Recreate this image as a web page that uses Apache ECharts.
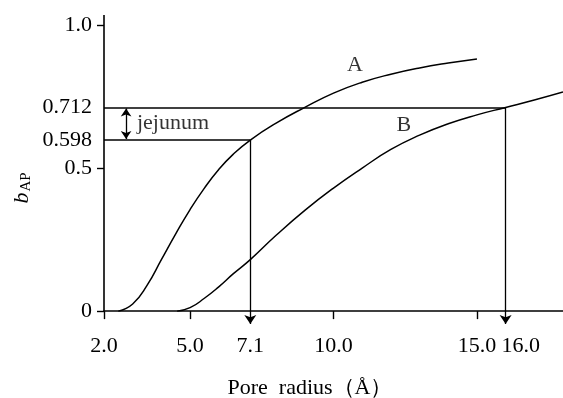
<!DOCTYPE html>
<html>
<head>
<meta charset="utf-8">
<script src="https://cdn.jsdelivr.net/npm/echarts@6/dist/echarts.min.js"></script>
<style>
  html, body { margin: 0; padding: 0; background: #fff; }
  #chart { width: 563px; height: 398px; }
</style>
</head>
<body>
<div id="chart"></div>
<script>
// pore radius (Å) vs b_AP
const radiusA = [2.5, 3.0, 3.5, 4.0, 4.5, 5.0, 5.5, 6.0, 6.5, 7.1, 8.0, 9.0, 10.0, 11.0, 12.0, 13.0, 14.0, 15.0];
const bapA = [0.0, 0.025, 0.09, 0.18, 0.27, 0.355, 0.43, 0.495, 0.548, 0.598, 0.657, 0.712, 0.762, 0.8, 0.828, 0.85, 0.867, 0.881];
const radiusB = [4.55, 5.0, 5.5, 6.0, 6.5, 7.1, 8.0, 9.0, 10.0, 11.0, 12.0, 13.0, 14.0, 15.0, 16.0, 17.0, 18.0];
const bapB = [0.0, 0.012, 0.045, 0.085, 0.13, 0.18, 0.265, 0.352, 0.43, 0.5, 0.565, 0.615, 0.655, 0.686, 0.712, 0.738, 0.766];

const xLabelValues = [2, 5, 7.1, 10, 15, 16];
const xTickValues = [2, 5, 10, 15];
const yLabelValues = [0, 0.5, 0.598, 0.712, 1];
const yTickValues = [0, 0.5, 1];

// jejunum range
const bapLow = 0.598, bapHigh = 0.712;
const radiusLow = 7.1, radiusHigh = 16.0;

const xMin = 2, xMax = 18;
const yMin = -0.045, yMax = 1.035;

const FONT = '"Liberation Serif", "Times New Roman", serif';
const black = '#000';

const toPairs = (xs, ys) => xs.map((x, i) => [x, ys[i]]);

const chart = echarts.init(document.getElementById('chart'), null, { renderer: 'canvas' });

const option = {
    backgroundColor: '#fff',
    animation: false,
    grid: { left: 104, right: 0, top: 15, bottom: 74, containLabel: false },
    xAxis: {
        type: 'value',
        min: xMin,
        max: xMax,
        axisLine: { show: true, lineStyle: { color: black, width: 1.6 } },
        axisTick: { show: true, length: 8, customValues: xTickValues, lineStyle: { color: black, width: 1.4 } },
        axisLabel: {
            customValues: xLabelValues,
            margin: 11,
            color: black,
            fontFamily: FONT,
            fontSize: 22,
            formatter: v => v === 16 ? '{r|16.0}' : v.toFixed(1),
            rich: { r: { fontFamily: FONT, fontSize: 22, color: black, padding: [0, 0, 0, 30] } }
        },
        splitLine: { show: false }
    },
    yAxis: {
        type: 'value',
        min: yMin,
        max: yMax,
        axisLine: { show: false },
        axisTick: { show: true, length: 7, customValues: yTickValues, lineStyle: { color: black, width: 1.4 } },
        axisLabel: {
            customValues: yLabelValues,
            margin: 12,
            color: black,
            fontFamily: FONT,
            fontSize: 22,
            formatter: v => v === 1 ? '1.0' : String(v)
        },
        splitLine: { show: false }
    },
    graphic: [
        {
            type: 'text',
            x: 22, y: 188,
            rotation: Math.PI / 2,
            style: {
                text: '{b|b}{s|AP}',
                align: 'center',
                verticalAlign: 'middle',
                rich: {
                    b: { fontFamily: FONT, fontStyle: 'italic', fontSize: 22, fill: black },
                    s: { fontFamily: FONT, fontSize: 15, fill: black, padding: [9, 0, 0, 1] }
                }
            }
        },
        {
            type: 'text',
            x: 310, y: 388,
            style: {
                text: 'Pore  radius\uFF08\u00C5\uFF09',
                align: 'center',
                verticalAlign: 'middle',
                fontFamily: FONT,
                fontSize: 22,
                fill: black
            }
        }
    ],
    series: [
        {
            name: 'A',
            type: 'line',
            data: toPairs(radiusA, bapA),
            smooth: 0.5,
            showSymbol: false,
            lineStyle: { color: black, width: 1.5 },
            z: 3
        },
        {
            name: 'B',
            type: 'line',
            data: toPairs(radiusB, bapB),
            smooth: 0.5,
            showSymbol: false,
            lineStyle: { color: black, width: 1.5 },
            z: 3
        },
        {
            // y axis line (stops at 0, x axis sits lower) and the two level lines
            type: 'lines',
            coordinateSystem: 'cartesian2d',
            symbol: 'none',
            lineStyle: { color: black, width: 1.6, opacity: 1 },
            data: [
                { coords: [[xMin, 0], [xMin, yMax]] },
                { coords: [[xMin, bapHigh], [radiusHigh, bapHigh]] },
                { coords: [[xMin, bapLow], [radiusLow, bapLow]] }
            ]
        },
        {
            type: 'lines',
            coordinateSystem: 'cartesian2d',
            symbol: ['none', 'arrow'],
            symbolSize: 9,
            lineStyle: { color: black, width: 1.3, opacity: 1 },
            data: [
                { coords: [[radiusLow, bapLow], [radiusLow, yMin]] },
                { coords: [[radiusHigh, bapHigh], [radiusHigh, yMin]] }
            ]
        },
        {
            type: 'lines',
            coordinateSystem: 'cartesian2d',
            symbol: ['arrow', 'arrow'],
            symbolSize: 8,
            lineStyle: { color: black, width: 1.3, opacity: 1 },
            data: [
                { coords: [[2.77, bapLow + 0.004], [2.77, bapHigh - 0.004]] }
            ]
        },
        {
            type: 'scatter',
            symbolSize: 0,
            silent: true,
            label: {
                show: true,
                position: 'inside',
                formatter: p => p.name,
                color: black,
                fontFamily: FONT,
                fontSize: 22
            },
            data: [
                { name: 'A', value: [10.75, 0.86] },
                { name: 'B', value: [12.45, 0.65] },
                {
                    name: 'jejunum', value: [3.15, 0.657],
                    label: { align: 'left' }
                }
            ]
        }
    ]
};

chart.setOption(option);
</script>
</body>
</html>
